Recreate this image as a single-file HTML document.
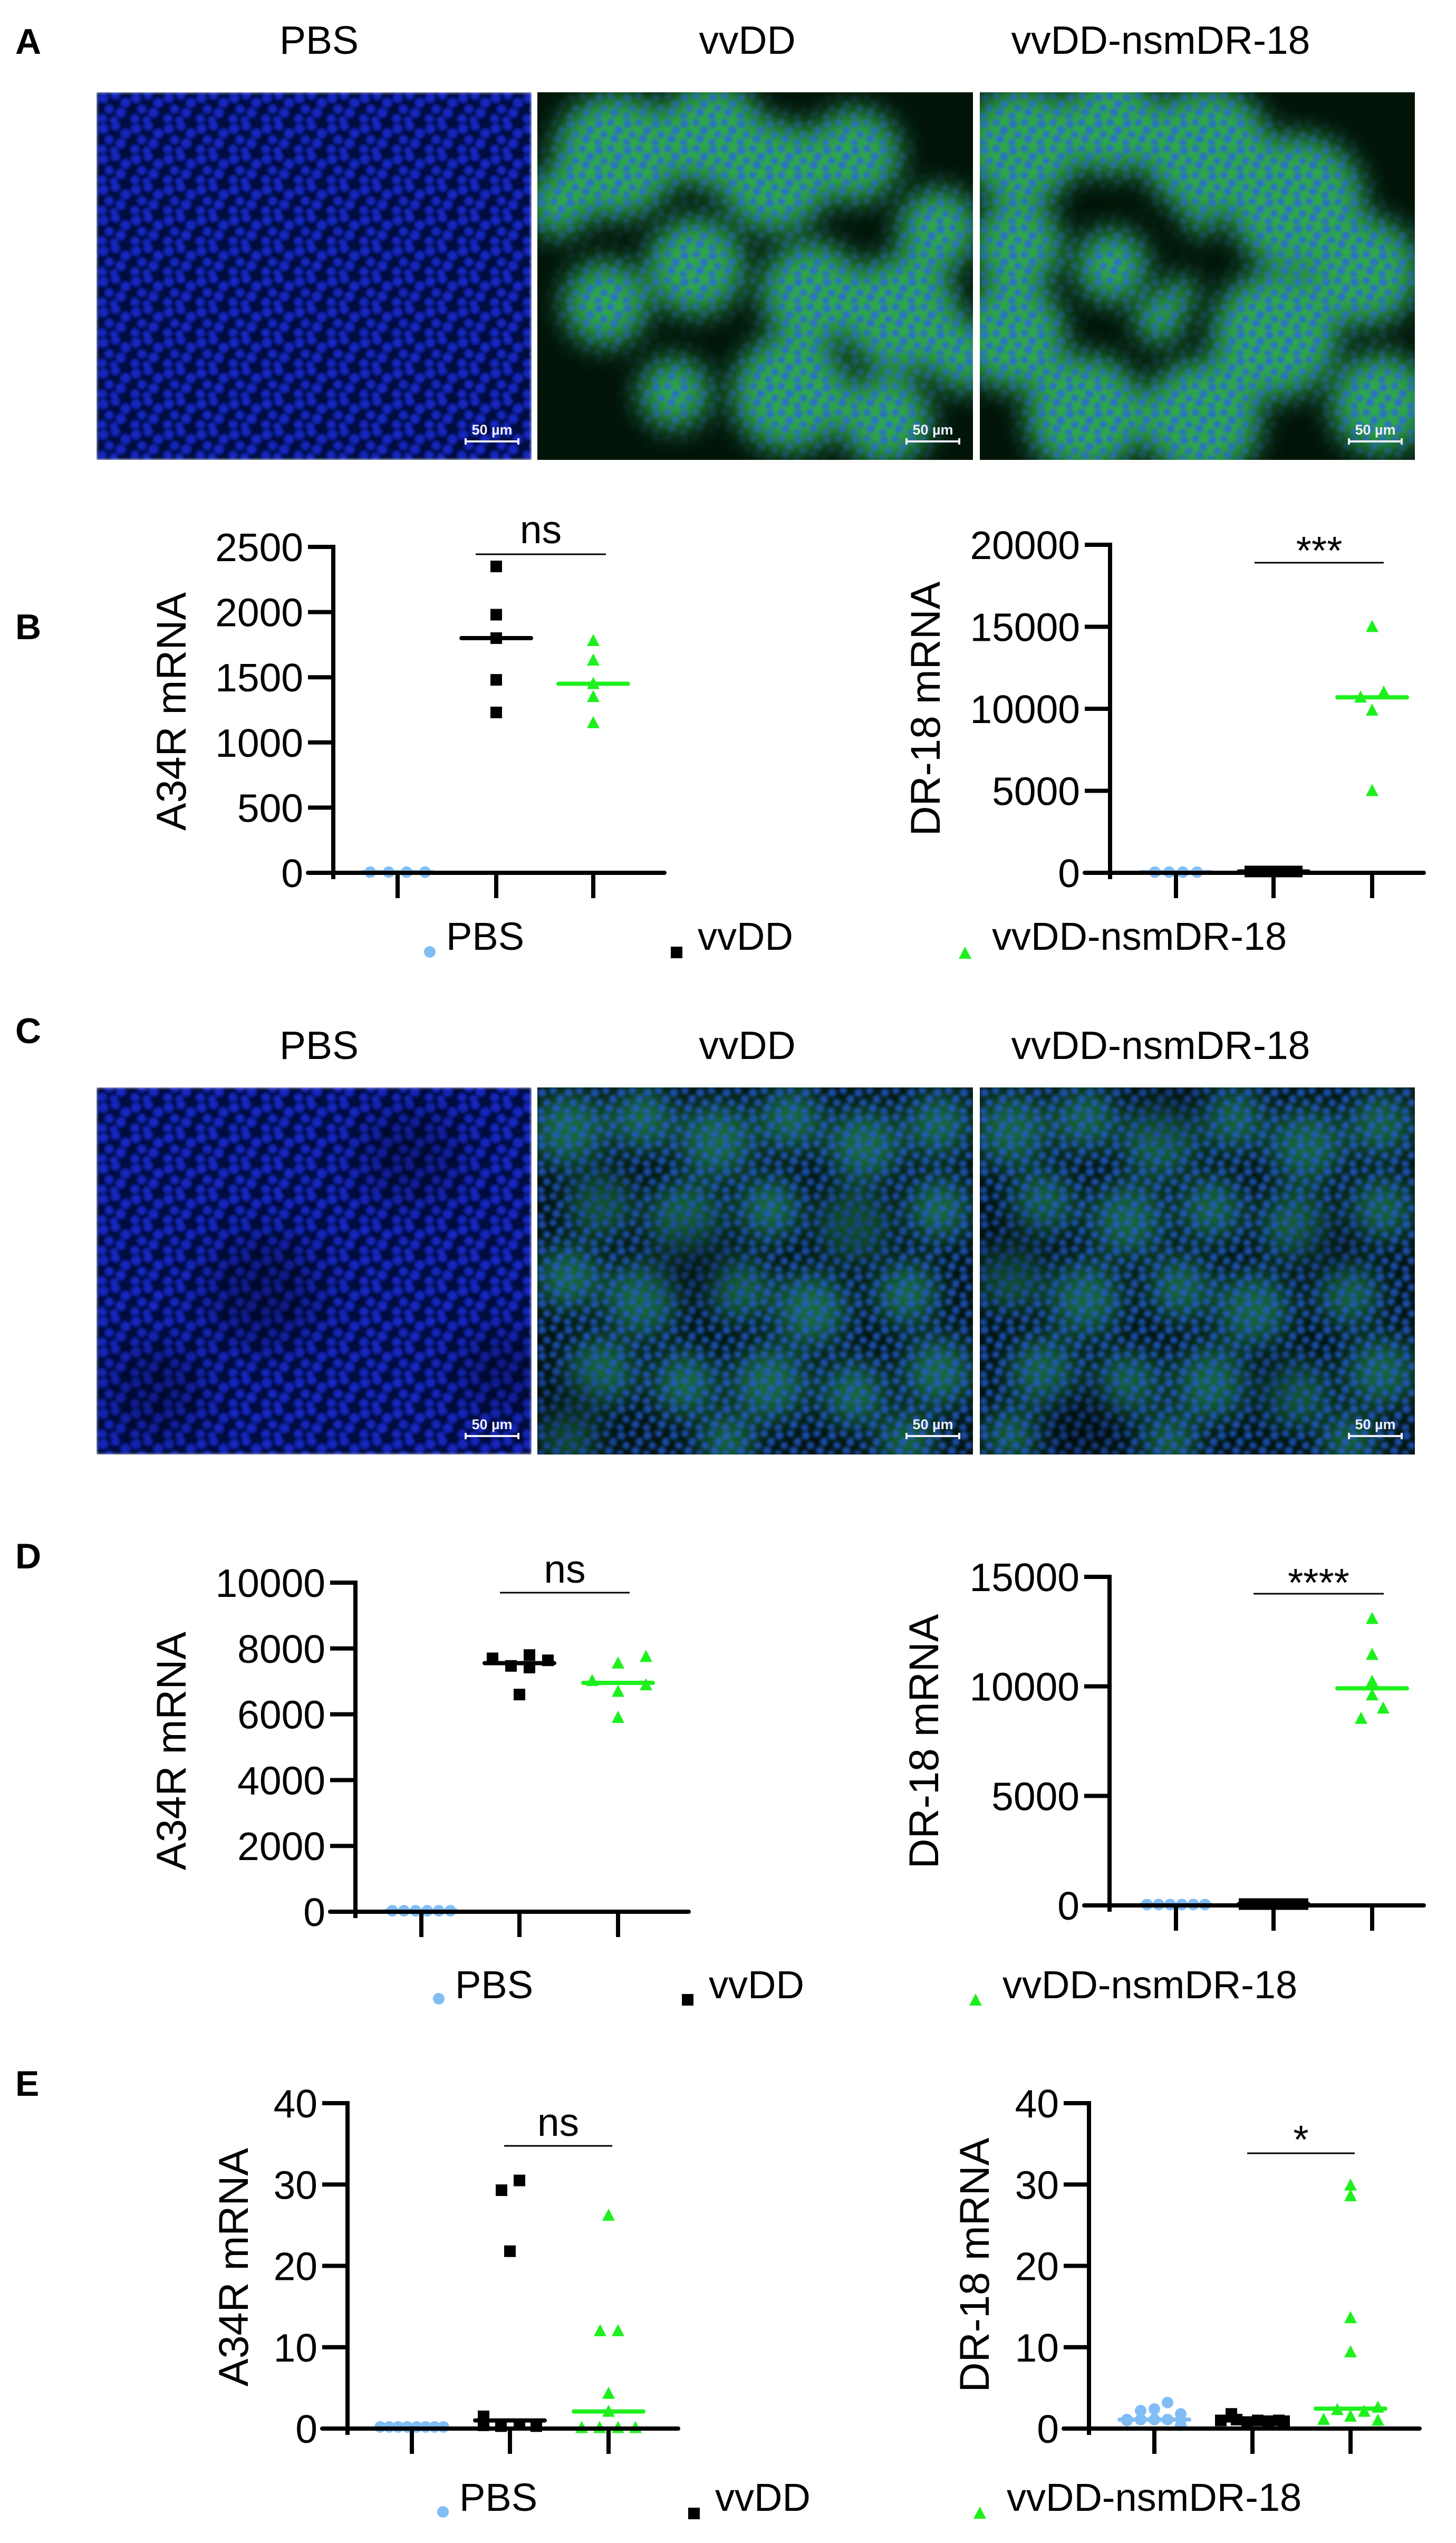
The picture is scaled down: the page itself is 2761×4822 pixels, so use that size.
<!DOCTYPE html>
<html><head><meta charset="utf-8"><title>Figure</title>
<style>
html,body{margin:0;padding:0;background:#fff;}
svg{display:block;}
text{font-family:"Liberation Sans",Arial,sans-serif;}
</style></head>
<body>
<svg id="fig" xmlns="http://www.w3.org/2000/svg" width="2761" height="4822" viewBox="0 0 2761 4822">
<defs>
  <filter id="blur2" x="-5%" y="-5%" width="110%" height="110%"><feGaussianBlur stdDeviation="3"/></filter>
  <filter id="blurBig" x="-30%" y="-30%" width="160%" height="160%"><feGaussianBlur stdDeviation="26"/></filter>
  <filter id="blurHuge" x="-30%" y="-30%" width="160%" height="160%"><feGaussianBlur stdDeviation="40"/></filter>
  <pattern id="nucBlue" patternUnits="userSpaceOnUse" width="62" height="58">
    <rect width="62" height="58" fill="#030a3c"/>
    <g fill="#1c2ed8" opacity="0.85">
      <circle cx="10" cy="12" r="9"/><circle cx="33" cy="7" r="8"/><circle cx="52" cy="21" r="9"/>
      <circle cx="21" cy="33" r="8"/><circle cx="43" cy="40" r="9"/><circle cx="8" cy="51" r="8"/>
      <circle cx="30" cy="54" r="7"/>
    </g>
  </pattern>
  <pattern id="nucGreen" patternUnits="userSpaceOnUse" width="54" height="50">
    <g fill="#2a66e0" opacity="0.85">
      <circle cx="9" cy="10" r="8"/><circle cx="31" cy="7" r="7"/><circle cx="46" cy="22" r="8"/>
      <circle cx="18" cy="30" r="7"/><circle cx="38" cy="38" r="8"/><circle cx="7" cy="45" r="7"/>
    </g>
  </pattern>
  <pattern id="nucC" patternUnits="userSpaceOnUse" width="50" height="50">
    <g fill="#1e5ad8" opacity="0.75">
      <circle cx="9" cy="10" r="8"/><circle cx="30" cy="6" r="7"/><circle cx="44" cy="22" r="8"/>
      <circle cx="18" cy="29" r="7"/><circle cx="36" cy="39" r="8"/><circle cx="7" cy="45" r="7"/>
    </g>
  </pattern>
  <g id="blobsA2">
    <circle cx="150" cy="120" r="118"/><circle cx="330" cy="80" r="100"/><circle cx="450" cy="160" r="105"/>
    <circle cx="600" cy="120" r="88"/><circle cx="760" cy="260" r="76"/><circle cx="690" cy="420" r="110"/>
    <circle cx="520" cy="380" r="96"/><circle cx="300" cy="330" r="92"/><circle cx="130" cy="400" r="80"/>
    <circle cx="480" cy="570" r="110"/><circle cx="660" cy="620" r="85"/><circle cx="260" cy="570" r="66"/>
    <circle cx="40" cy="210" r="62"/><circle cx="810" cy="500" r="66"/>
  </g>
  <g id="blobsA3">
    <circle cx="80" cy="100" r="112"/><circle cx="250" cy="60" r="95"/><circle cx="430" cy="110" r="120"/>
    <circle cx="600" cy="210" r="128"/><circle cx="730" cy="340" r="102"/><circle cx="560" cy="460" r="120"/>
    <circle cx="420" cy="620" r="112"/><circle cx="200" cy="610" r="112"/><circle cx="60" cy="460" r="102"/>
    <circle cx="70" cy="290" r="86"/><circle cx="760" cy="590" r="94"/><circle cx="340" cy="430" r="46"/>
    <circle cx="420" cy="240" r="30"/><circle cx="380" cy="380" r="30"/><circle cx="250" cy="330" r="68"/>
  </g>
  <g id="blobsC">
    <circle cx="60" cy="80" r="70"/><circle cx="200" cy="60" r="60"/><circle cx="340" cy="100" r="70"/><circle cx="480" cy="60" r="60"/>
    <circle cx="620" cy="110" r="70"/><circle cx="760" cy="70" r="60"/><circle cx="120" cy="220" r="60"/><circle cx="280" cy="250" r="70"/>
    <circle cx="440" cy="230" r="60"/><circle cx="600" cy="260" r="65"/><circle cx="760" cy="230" r="60"/><circle cx="60" cy="360" r="60"/>
    <circle cx="200" cy="400" r="70"/><circle cx="380" cy="380" r="60"/><circle cx="520" cy="420" r="70"/><circle cx="700" cy="390" r="60"/>
    <circle cx="120" cy="540" r="65"/><circle cx="280" cy="560" r="60"/><circle cx="440" cy="560" r="70"/><circle cx="600" cy="580" r="60"/>
    <circle cx="760" cy="540" r="65"/><circle cx="60" cy="660" r="50"/><circle cx="360" cy="670" r="50"/><circle cx="700" cy="670" r="50"/>
  </g>
</defs>

<text x="29" y="102" font-size="68" font-weight="bold">A</text>
<text x="29" y="1212" font-size="68" font-weight="bold">B</text>
<text x="29" y="1978" font-size="68" font-weight="bold">C</text>
<text x="29" y="2974" font-size="68" font-weight="bold">D</text>
<text x="29" y="3974" font-size="68" font-weight="bold">E</text>

<g font-size="75" text-anchor="middle">
  <text x="605" y="102">PBS</text>
  <text x="1417" y="102">vvDD</text>
  <text x="2201" y="102">vvDD-nsmDR-18</text>
</g>
<g font-size="75" text-anchor="middle">
  <text x="605" y="2008">PBS</text>
  <text x="1417" y="2008">vvDD</text>
  <text x="2201" y="2008">vvDD-nsmDR-18</text>
</g>

<g>
  <clipPath id="clipA1"><rect x="183" y="175" width="825" height="697"/></clipPath>
  <g clip-path="url(#clipA1)">
    <rect x="183" y="175" width="825" height="697" fill="url(#nucBlue)" filter="url(#blur2)"/>
  </g>
</g>
<g transform="translate(1019,175)">
  <clipPath id="clipA2"><rect width="826" height="697"/></clipPath>
  <mask id="maskA2"><use href="#blobsA2" fill="white" filter="url(#blurBig)"/></mask>
  <g clip-path="url(#clipA2)">
    <rect width="826" height="697" fill="#021408"/>
    <use href="#blobsA2" fill="#2ea84a" filter="url(#blurBig)"/>
    <rect width="826" height="697" fill="url(#nucGreen)" mask="url(#maskA2)" filter="url(#blur2)"/>
  </g>
</g>
<g transform="translate(1858,175)">
  <clipPath id="clipA3"><rect width="825" height="697"/></clipPath>
  <mask id="maskA3"><use href="#blobsA3" fill="white" filter="url(#blurBig)"/></mask>
  <g clip-path="url(#clipA3)">
    <rect width="825" height="697" fill="#021408"/>
    <use href="#blobsA3" fill="#2ea84a" filter="url(#blurBig)"/>
    <rect width="825" height="697" fill="url(#nucGreen)" mask="url(#maskA3)" filter="url(#blur2)"/>
  </g>
</g>

<g>
  <clipPath id="clipC1"><rect x="183" y="2062" width="825" height="696"/></clipPath>
  <g clip-path="url(#clipC1)">
    <rect x="183" y="2062" width="825" height="696" fill="url(#nucBlue)" filter="url(#blur2)"/>
    <g fill="#000" opacity="0.3" filter="url(#blurHuge)">
      <circle cx="500" cy="2450" r="110"/><circle cx="780" cy="2190" r="90"/><circle cx="300" cy="2640" r="90"/><circle cx="950" cy="2600" r="80"/>
    </g>
  </g>
</g>
<g transform="translate(1019,2062)">
  <clipPath id="clipC2"><rect width="826" height="696"/></clipPath>
  <g clip-path="url(#clipC2)">
    <rect width="826" height="696" fill="#03140f"/>
    <use href="#blobsC" fill="#24884e" opacity="0.75" filter="url(#blurBig)"/>
    <rect width="826" height="696" fill="url(#nucC)" filter="url(#blur2)"/>
    <g fill="#000" opacity="0.4" filter="url(#blurHuge)">
      <circle cx="300" cy="330" r="80"/><circle cx="60" cy="620" r="70"/><circle cx="600" cy="260" r="60"/><circle cx="120" cy="200" r="50"/>
    </g>
  </g>
</g>
<g transform="translate(1858,2062)">
  <clipPath id="clipC3"><rect width="825" height="696"/></clipPath>
  <g clip-path="url(#clipC3)">
    <rect width="825" height="696" fill="#03140f"/>
    <use href="#blobsC" fill="#24884e" opacity="0.7" filter="url(#blurBig)"/>
    <rect width="825" height="696" fill="url(#nucC)" filter="url(#blur2)"/>
    <g fill="#000" opacity="0.4" filter="url(#blurHuge)">
      <circle cx="60" cy="320" r="70"/><circle cx="200" cy="640" r="70"/><circle cx="660" cy="300" r="60"/><circle cx="360" cy="30" r="60"/><circle cx="560" cy="560" r="50"/>
    </g>
  </g>
</g>

<g id="scalebars"></g>
</svg>

<script>
// ---------- chart data ----------
const groupNames = ['PBS', 'vvDD', 'vvDD-nsmDR-18'];

const bL_ticks = [0, 500, 1000, 1500, 2000, 2500];
const bL_pbs = [5, 5, 5, 5];
const bL_vvdd = [2350, 1980, 1800, 1480, 1230];
const bL_nsm = [1780, 1630, 1450, 1350, 1150];

const bR_ticks = [0, 5000, 10000, 15000, 20000];
const bR_pbs = [40, 40, 40, 40];
const bR_vvdd = [80, 80, 80, 80, 80];
const bR_nsm = [15000, 11000, 10700, 9900, 5000];

const dL_ticks = [0, 2000, 4000, 6000, 8000, 10000];
const dL_pbs = [30, 30, 30, 30, 30, 30];
const dL_vvdd = [7700, 7470, 7800, 7420, 7640, 6600];
const dL_nsm = [7020, 7550, 7750, 6690, 6890, 5900];

const dR_ticks = [0, 5000, 10000, 15000];
const dR_pbs = [40, 40, 40, 40, 40, 40];
const dR_vvdd = [60, 60, 60, 60, 60, 60];
const dR_nsm = [13090, 11450, 10220, 9600, 9000, 8530];

const eL_ticks = [0, 10, 20, 30, 40];
const eL_pbs = [0.2, 0.2, 0.2, 0.2, 0.2, 0.2, 0.2, 0.2];
const eL_vvdd = [29.3, 30.5, 21.8, 1.5, 0.4, 0.3, 0.5, 0.3];
const eL_nsm = [26.2, 12.0, 12.0, 4.3, 2.1, 0.1, 0.1, 0.1, 0.1];

const eR_ticks = [0, 10, 20, 30, 40];
const eR_pbs = [1.1, 2.2, 1.1, 2.4, 1.1, 3.2, 1.1, 1.8, 0.4, 1.0];
const eR_vvdd = [1.8, 1.0, 1.1, 0.8, 1.0, 0.9, 1.0, 0.9];
const eR_nsm = [29.9, 28.6, 13.6, 9.4, 1.1, 2.3, 1.5, 2.1, 2.6, 1.0];

// ---------- jitter (horizontal scatter offsets, px) ----------
const J = {
  bL: [[-52,-17,17,52],[0,0,0,0,0],[0,0,0,0,0]],
  bR: [[-40,-13,13,40],[-44,-22,0,22,44],[0,22,-22,0,0]],
  dL: [[-55,-33,-11,11,33,55],[-51,-16,19,19,54,0],[-49,0,53,0,53,0]],
  dR: [[-55,-33,-11,11,33,55],[-55,-33,-11,11,33,55],[0,0,0,0,21,-21]],
  eL: [[-60,-43,-26,-9,9,26,43,60],[-16,18,0,-50,-50,-17,18,50],[0,-16,18,0,0,-51,-17,18,51]],
  eR: [[-52,-26,-26,0,0,25,25,50,50,-52],[-40,-60,-30,-10,10,30,50,60],[0,0,0,0,-51,-25,0,26,52,52]]
};

// ---------- layout ----------
const charts = [
  {id:'b-left', ticks:bL_ticks, series:[bL_pbs,bL_vvdd,bL_nsm], jit:J.bL, axisX:632, y0:1655, yTop:1037, tickXs:[754,941,1125], xEnd:1260,
   sig:{x1:902,x2:1149,y:1051,label:'ns',ty:1030}, title:'A34R mRNA', tcx:324, tcy:1349,
   legend:{pbs:[815,1805],vvdd:[1283,1806],nsm:[1830,1808],base:1801}},
  {id:'b-right', ticks:bR_ticks, series:[bR_pbs,bR_vvdd,bR_nsm], jit:J.bR, axisX:2105, y0:1655, yTop:1033, tickXs:[2230,2415,2602], xEnd:2700,
   sig:{x1:2379,x2:2624,y:1067,label:'***',ty:1070}, title:'DR-18 mRNA', tcx:1754, tcy:1344},
  {id:'d-left', ticks:dL_ticks, series:[dL_pbs,dL_vvdd,dL_nsm], jit:J.dL, axisX:674, y0:3625, yTop:3001, tickXs:[799,985,1172], xEnd:1306,
   sig:{x1:948,x2:1194,y:3020,label:'ns',ty:3001}, title:'A34R mRNA', tcx:324, tcy:3320,
   legend:{pbs:[832,3790],vvdd:[1304,3792],nsm:[1850,3793],base:3789}},
  {id:'d-right', ticks:dR_ticks, series:[dR_pbs,dR_vvdd,dR_nsm], jit:J.dR, axisX:2104, y0:3613, yTop:2990, tickXs:[2230,2415,2602], xEnd:2700,
   sig:{x1:2377,x2:2624,y:3022,label:'****',ty:3027}, title:'DR-18 mRNA', tcx:1751, tcy:3302},
  {id:'e-left', ticks:eL_ticks, series:[eL_pbs,eL_vvdd,eL_nsm], jit:J.eL, axisX:659, y0:4605, yTop:3988, tickXs:[781,967,1154], xEnd:1286,
   sig:{x1:956,x2:1161,y:4069,label:'ns',ty:4050}, title:'A34R mRNA', tcx:442, tcy:4299,
   legend:{pbs:[840,4763],vvdd:[1316,4766],nsm:[1858,4766],base:4761}},
  {id:'e-right', ticks:eR_ticks, series:[eR_pbs,eR_vvdd,eR_nsm], jit:J.eR, axisX:2065, y0:4605, yTop:3988, tickXs:[2189,2375,2561], xEnd:2692,
   sig:{x1:2365,x2:2569,y:4083,label:'*',ty:4083}, title:'DR-18 mRNA', tcx:1847, tcy:4295}
];

const COLORS = ['#80bdf5', '#000000', '#1ef01e'];
const NS = 'http://www.w3.org/2000/svg';
const svg = document.getElementById('fig');

function mk(tag, attrs, parent) {
  const el = document.createElementNS(NS, tag);
  for (const k in attrs) el.setAttribute(k, attrs[k]);
  parent.appendChild(el);
  return el;
}
function yScale(c, v) {
  const max = c.ticks[c.ticks.length - 1];
  return c.y0 - v / max * (c.y0 - c.yTop);
}
function median(a) {
  const s = a.slice().sort((p, q) => p - q);
  const n = s.length;
  return n % 2 ? s[(n - 1) / 2] : (s[n / 2 - 1] + s[n / 2]) / 2;
}
function marker(g, type, x, y) {
  let el;
  if (type === 0) {
    el = mk('circle', {cx:x, cy:y, r:11, fill:COLORS[0]}, g);
  } else if (type === 1) {
    el = mk('rect', {x:x-11, y:y-11, width:22, height:22, fill:COLORS[1]}, g);
  } else {
    el = mk('polygon', {points:(x)+','+(y-13)+' '+(x-12)+','+(y+10)+' '+(x+12)+','+(y+10), fill:COLORS[2]}, g);
  }
  return el;
}

const sbg = document.getElementById('scalebars');
[[183,175,697],[1019,175,697],[1858,175,697],[183,2062,696],[1019,2062,696],[1858,2062,696]].forEach(function(p){
  const t = mk('text', {x:p[0]+750, y:p[1]+p[2]-48, 'font-size':27, 'font-weight':'bold', fill:'#eef', 'text-anchor':'middle'}, sbg);
  
  
  t.textContent = '50 µm';
  const l = mk('path', {d:'M'+(p[0]+699)+' '+(p[1]+p[2]-35)+' H'+(p[0]+801)+' M'+(p[0]+700)+' '+(p[1]+p[2]-41)+' V'+(p[1]+p[2]-29)+' M'+(p[0]+800)+' '+(p[1]+p[2]-41)+' V'+(p[1]+p[2]-29), stroke:'#eef', 'stroke-width':4, fill:'none'}, sbg);
  
  
});

charts.forEach(function(c){
  const g = mk('g', {}, svg);
  
  

  c.series.forEach(function(vals, gi){
    const sg = mk('g', {}, g);
    
    
    vals.forEach(function(v, i){
      const m = marker(sg, gi, c.tickXs[gi] + (c.jit[gi][i] || 0), yScale(c, v));
      
      
    });
    const my = yScale(c, median(vals));
    const ml = mk('line', {x1:c.tickXs[gi]-66, x2:c.tickXs[gi]+66, y1:my, y2:my, stroke:COLORS[gi], 'stroke-width':8, 'stroke-linecap':'round'}, sg);
    
    
  });

  const ax = mk('g', {stroke:'#000', 'stroke-width':8, fill:'none'}, g);
  
  
  const ya = mk('line', {x1:c.axisX, x2:c.axisX, y1:c.yTop-4, y2:c.y0+12}, ax);
  
  
  const xa = mk('line', {x1:c.axisX-48, x2:c.xEnd, y1:c.y0, y2:c.y0, 'stroke-linecap':'round'}, ax);
  
  
  c.ticks.forEach(function(t){
    const y = yScale(c, t);
    const tk = mk('line', {x1:c.axisX-48, x2:c.axisX, y1:y, y2:y}, ax);
    
    
    const tl = mk('text', {x:c.axisX-57, y:y+27, 'font-size':75, 'text-anchor':'end', fill:'#000'}, g);
    
    
    tl.textContent = String(t);
  });
  c.tickXs.forEach(function(x){
    const tk = mk('line', {x1:x, x2:x, y1:c.y0, y2:c.y0+48}, ax);
    
    
  });

  const bx = c.tcx + 28;
  const yt = mk('text', {x:bx, y:c.tcy, 'font-size':79, 'text-anchor':'middle', transform:'rotate(-90 '+bx+' '+c.tcy+')', fill:'#000'}, g);
  
  
  yt.textContent = c.title;

  const sl = mk('line', {x1:c.sig.x1, x2:c.sig.x2, y1:c.sig.y, y2:c.sig.y, stroke:'#000', 'stroke-width':3}, g);
  
  
  const st = mk('text', {x:(c.sig.x1+c.sig.x2)/2, y:c.sig.ty, 'font-size':75, 'text-anchor':'middle', fill:'#000'}, g);
  
  
  st.textContent = c.sig.label;

  if (c.legend) {
    const lg = mk('g', {}, g);
    
    
    const keys = ['pbs', 'vvdd', 'nsm'];
    const txtX = [c.legend.pbs[0]+31, c.legend.vvdd[0]+40, c.legend.nsm[0]+51];
    keys.forEach(function(k, gi){
      const p = c.legend[k];
      const m = marker(lg, gi, p[0], p[1]);
      
      
      const t = mk('text', {x:txtX[gi], y:c.legend.base, 'font-size':74, fill:'#000'}, lg);
      
      
      t.textContent = groupNames[gi];
    });
  }
});
</script>
</body></html>
